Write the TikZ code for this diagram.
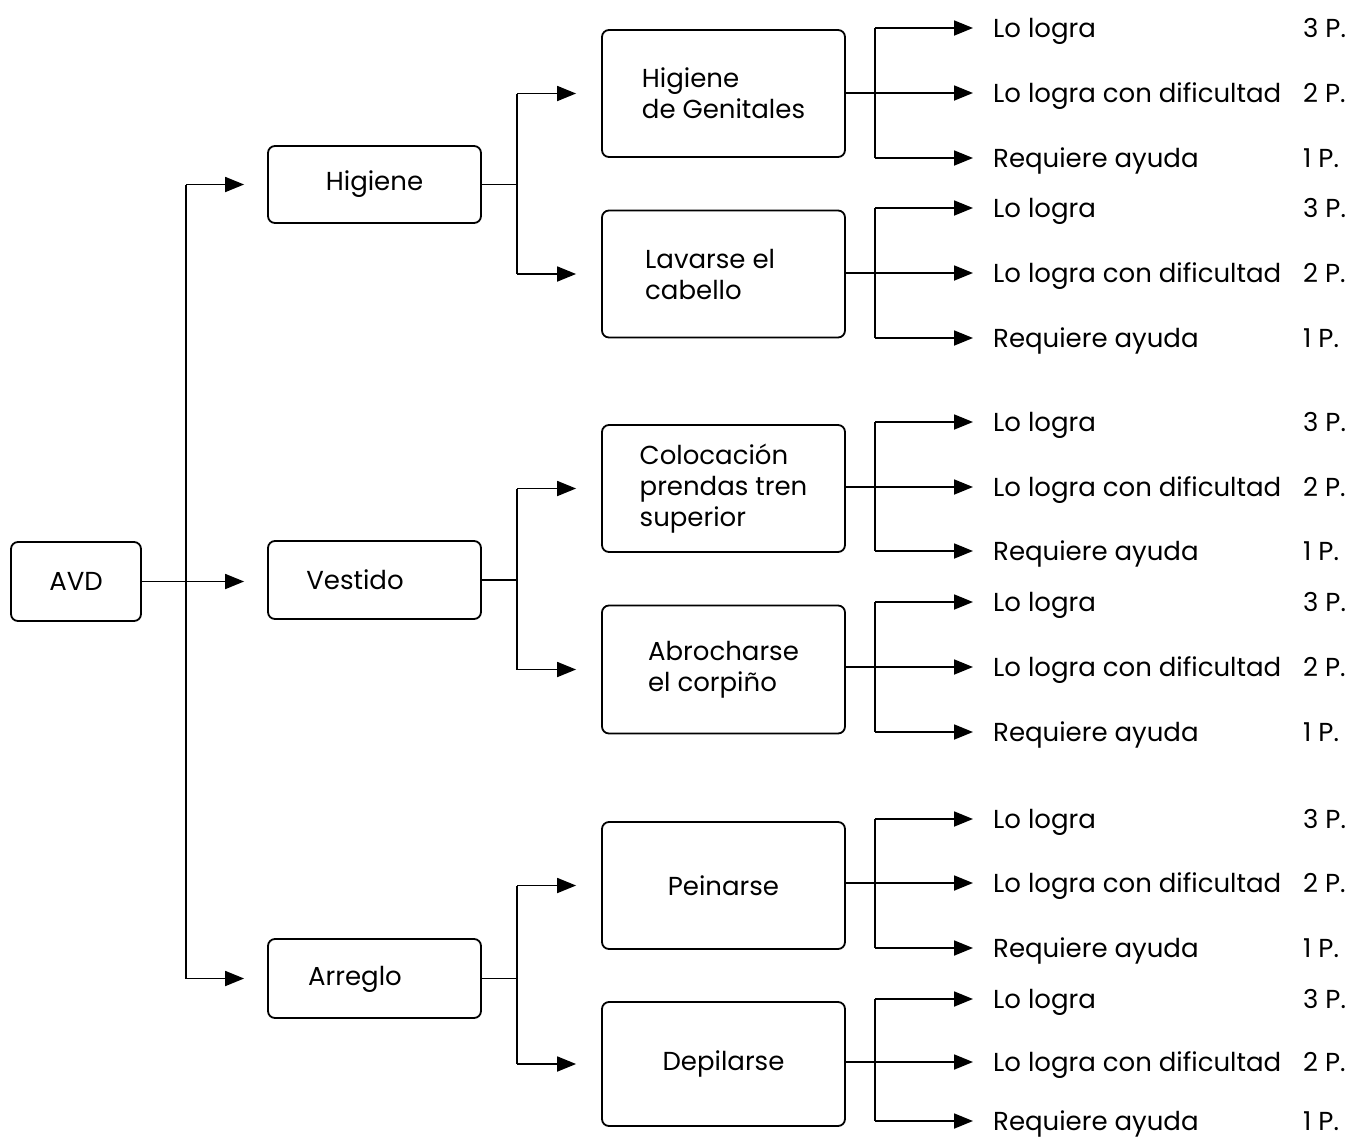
\documentclass[tikz,border=0pt]{standalone}
\usepackage{fontspec}
\setmainfont{Poppins}
\usetikzlibrary{arrows.meta}
\begin{document}
\begin{tikzpicture}[x=1pt,y=-1pt,
  box/.style={draw, line width=1.8pt, rounded corners=7pt, inner sep=0pt, font=\fontsize{26}{31}\selectfont, align=left},
  conn/.style={line width=1.8pt},
  arr/.style={conn, -{Triangle[length=19pt,width=15pt]}},
  txt/.style={font=\fontsize{26}{31}\selectfont, align=left, inner sep=0pt},
  lbl/.style={font=\fontsize{26}{31}\selectfont, inner sep=0pt, anchor=west, text height=18pt, text depth=0pt}]
\useasboundingbox (0,0) rectangle (1353,1141);

% level 0 and 1
\node[box, minimum width=130pt, minimum height=79pt] (avd) at (76,581.5) {AVD};
\node[box, minimum width=213pt, minimum height=77pt] (hig) at (374.5,184.5) {Higiene};
\node[box, minimum width=213pt, minimum height=78pt] (ves) at (374.5,580) {};
\node[box, minimum width=213pt, minimum height=79pt] (arr) at (374.5,978.5) {};
\node[txt] (vest) at (355,580) {Vestido};
\node[txt] (arrt) at (355,979) {Arreglo};

\coordinate (t0) at (186,0);
\draw[conn] (t0 |- hig) -- (t0 |- arr);
\draw[arr, shorten >=23pt] (t0 |- hig) -- (hig.west);
\draw[arr, shorten >=23pt] (avd.east) -- (avd.east -| ves.west);
\draw[arr, shorten >=23pt] (t0 |- arr) -- (arr.west);

% level 2 boxes
\node[box, minimum width=243pt, minimum height=127pt] (s1) at (723.5,93.5) {Higiene\\de Genitales};
\node[box, minimum width=243pt, minimum height=127pt] (s2) at (723.5,274) {};
\node[txt, anchor=west] (s2t) at (645,274.5) {Lavarse el\\cabello};
\node[box, minimum width=243pt, minimum height=127pt] (s3) at (723.5,488.5) {Colocación\\prendas tren\\superior};
\node[box, minimum width=243pt, minimum height=128pt] (s4) at (723.5,669.5) {Abrocharse\\el corpiño};
\node[box, minimum width=243pt, minimum height=127pt] (s5) at (723.5,885.5) {Peinarse};
\node[box, minimum width=243pt, minimum height=124pt] (s6) at (723.5,1064) {Depilarse};

\coordinate (t1) at (517,0);
\foreach \p/\a/\b in {hig/s1/s2, ves/s3/s4, arr/s5/s6}{
  \draw[conn] (\p.east) -- (t1 |- \p.east);
  \draw[conn] (t1 |- \a) -- (t1 |- \b);
  \draw[arr, shorten >=25pt] (t1 |- \a) -- (\a.west);
  \draw[arr, shorten >=25pt] (t1 |- \b) -- (\b.west);
}

% level 3 labels
\coordinate (t2) at (875,0);
\foreach \s/\ya/\yb/\yc in {s1/28/93/158, s2/208/273/338, s3/422/487/551, s4/602/667/732, s5/819/883/948, s6/999/1062/1121}{
  \node[lbl] (\s a) at (993,\ya) {Lo logra};
  \node[lbl] (\s b) at (993,\yb) {Lo logra con dificultad};
  \node[lbl] (\s c) at (993,\yc) {Requiere ayuda};
  \node[lbl] (\s pa) at (1303,\ya) {3 P.};
  \node[lbl] (\s pb) at (1303,\yb) {2 P.};
  \node[lbl] (\s pc) at (1303,\yc) {1 P.};
  \draw[conn] (t2 |- \s a.west) -- (t2 |- \s c.west);
  \draw[arr, shorten >=20pt] (t2 |- \s a.west) -- (\s a.west);
  \draw[arr, shorten >=20pt] (\s.east |- \s b.west) -- (\s b.west);
  \draw[arr, shorten >=20pt] (t2 |- \s c.west) -- (\s c.west);
}
\end{tikzpicture}
\end{document}
